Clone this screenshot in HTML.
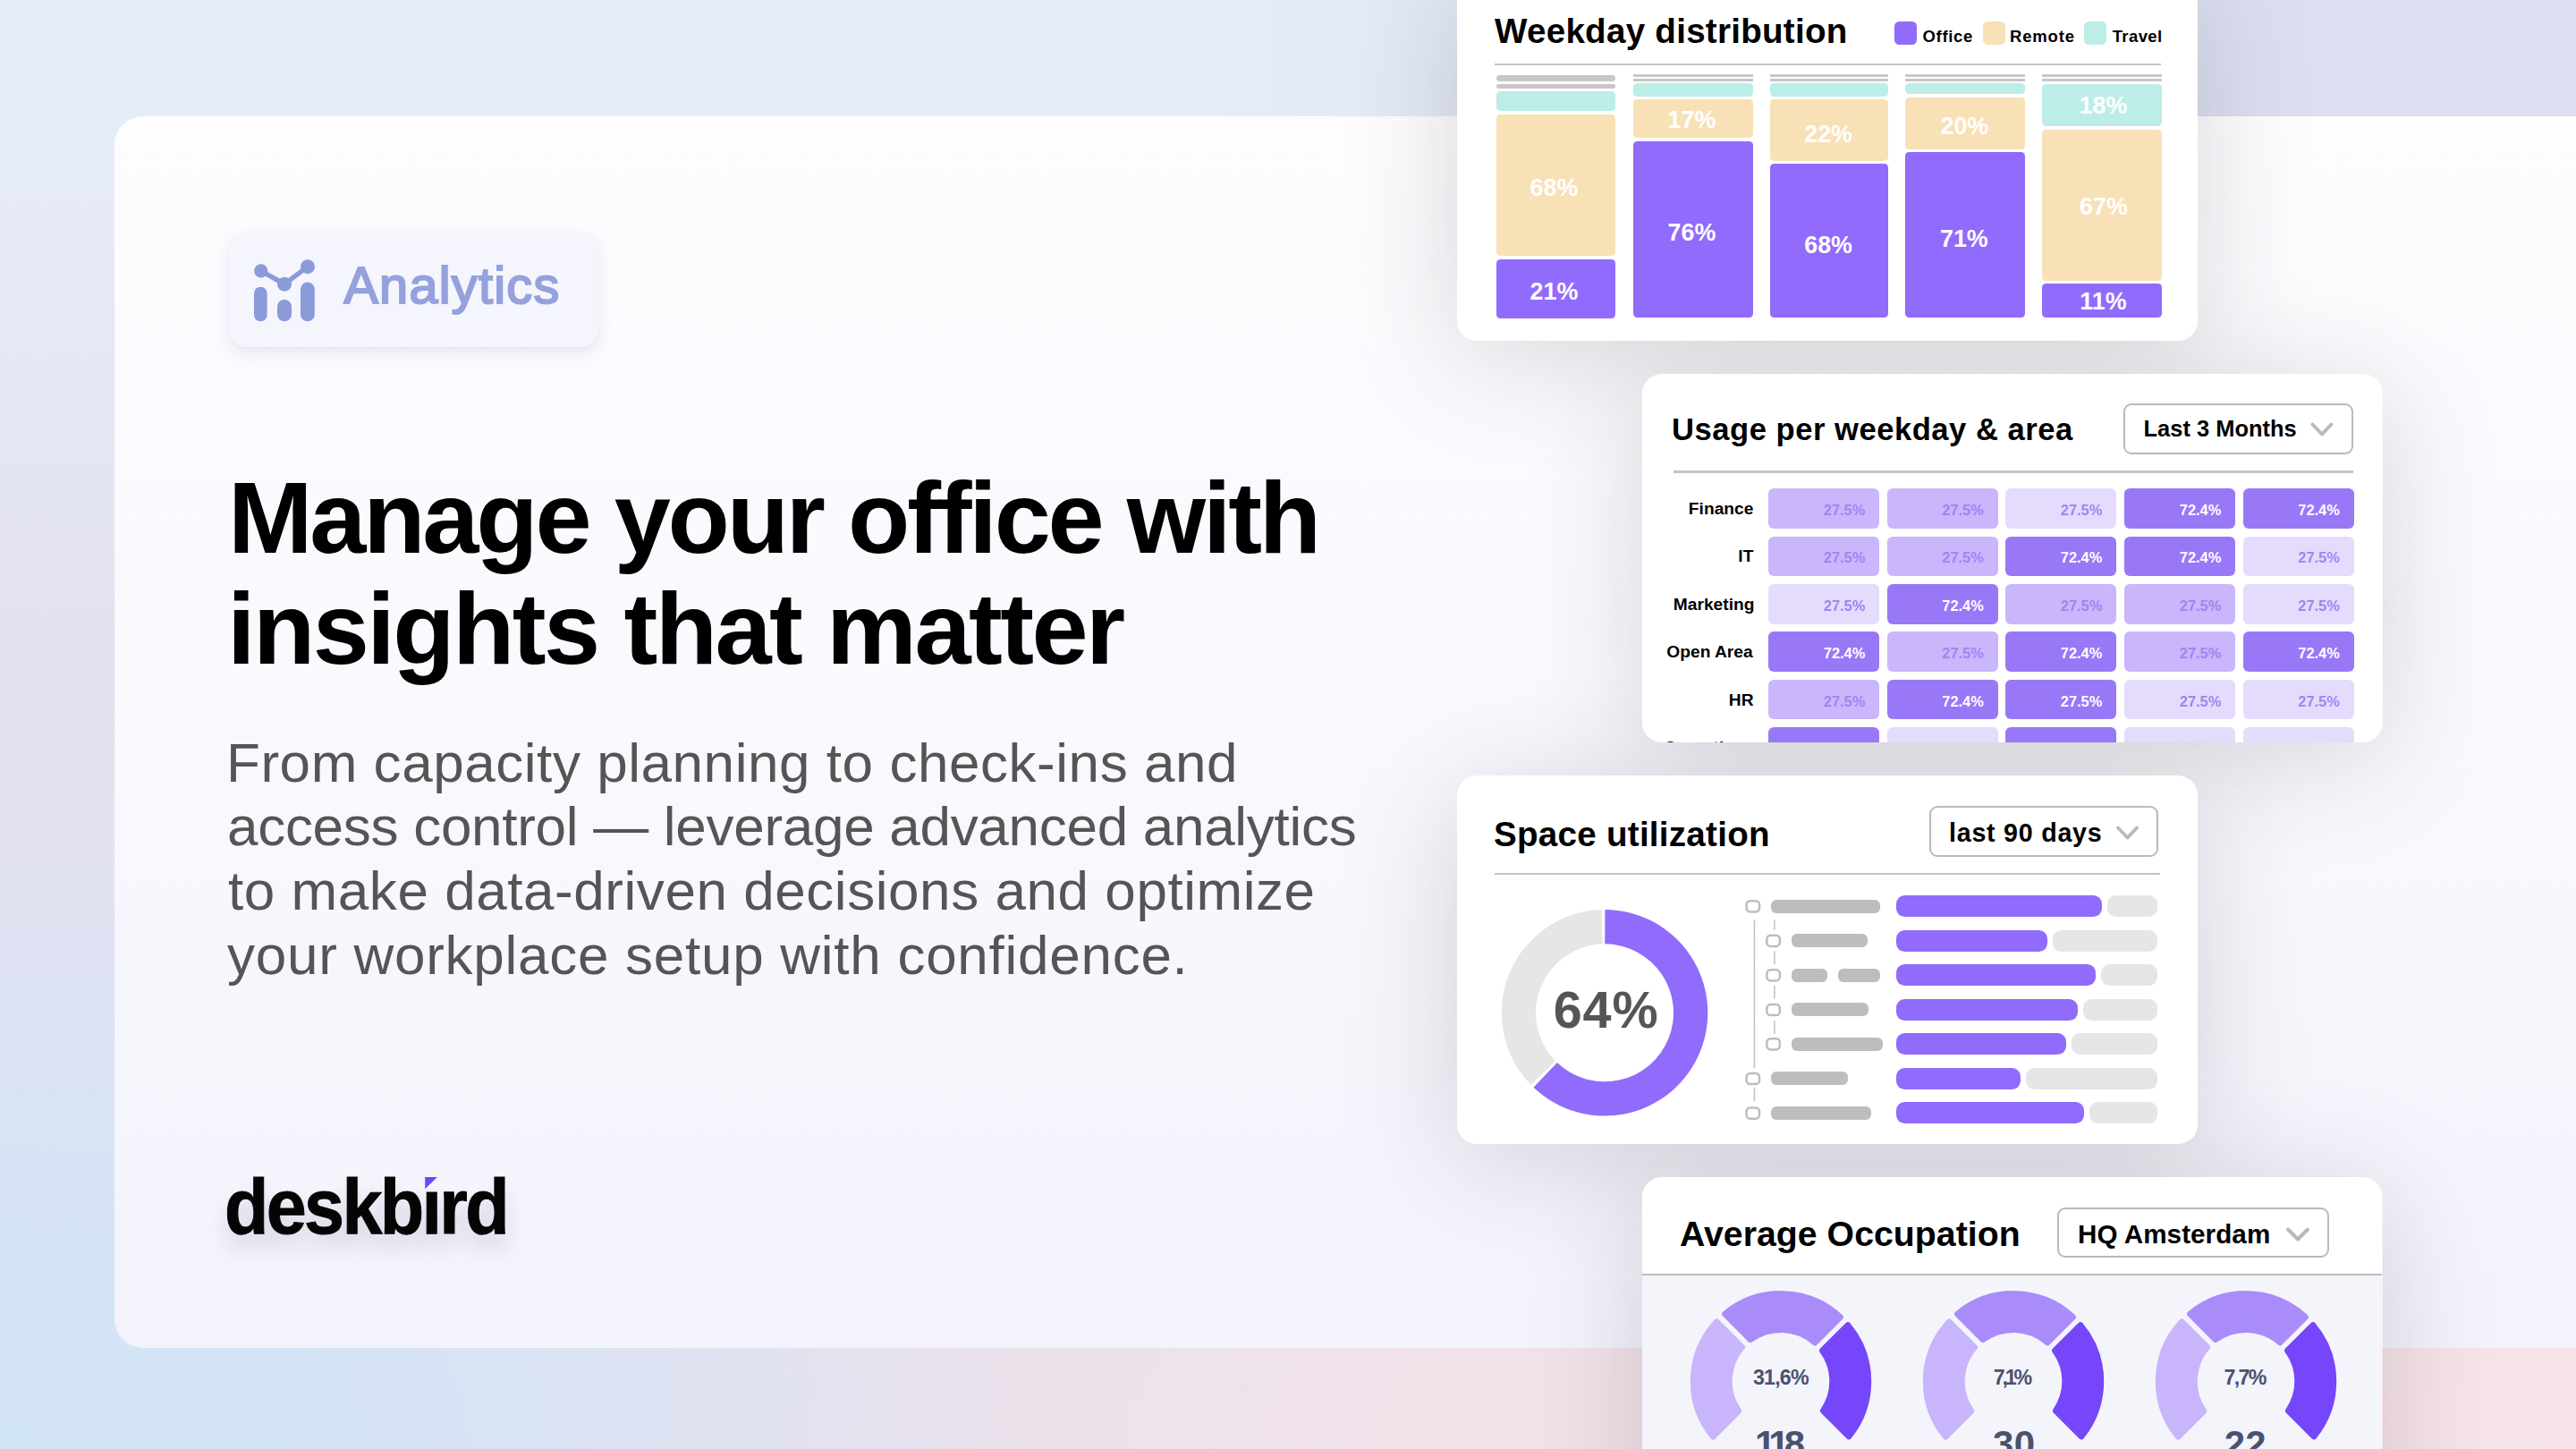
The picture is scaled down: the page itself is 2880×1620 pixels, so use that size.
<!DOCTYPE html>
<html lang="en"><head><meta charset="utf-8"><title>deskbird Analytics</title>
<style>
html,body{margin:0;padding:0}
body{width:2880px;height:1620px;overflow:hidden;position:relative;font-family:"Liberation Sans",sans-serif;font-weight:700;
background:
 radial-gradient(ellipse 1150px 720px at 0% 100%, #d1e4f6 0%, #d3e4f6 25%, rgba(209,228,246,0) 100%),
 radial-gradient(ellipse 2500px 700px at 100% 100%, #f8e4e8 0%, #f3e2e8 45%, rgba(243,226,232,0) 100%),
 linear-gradient(90deg, rgba(219,223,240,0) 45%, #dbdff0 82%),
 linear-gradient(180deg, #e6edf8 0%, #e6edf8 8%, rgba(230,237,248,0) 45%),
 #e3e1f0;}
.b{position:absolute;display:block}
.t{position:absolute;white-space:pre;line-height:1}
.panel{position:absolute;left:128px;top:130px;width:2800px;height:1377px;border-radius:32px;background:linear-gradient(180deg,#fdfdff 0%,#f9f9fe 45%,#f3f3fc 100%)}
.card{position:absolute;background:#fff;border-radius:22px;overflow:hidden}
.sh{position:absolute;border-radius:22px;box-shadow:0 16px 130px 0 rgba(42,42,48,.18)}
.dd{position:absolute;box-sizing:border-box;border:2.8px solid #bababa;border-radius:9px;background:#fff}
</style></head><body>
<div class="panel"></div>
<div class="b" style="left:255.00px;top:259.00px;width:415.00px;height:129.00px;background:#f4f5fd;border-radius:20px;box-shadow:0 8px 18px rgba(110,110,160,.13),0 1px 3px rgba(110,110,160,.05);"></div><svg class="b" style="left:276.00px;top:286.00px" width="84" height="80" viewBox="276 286 84 80"><g fill="#8b9ad9"><rect x="284" y="320.7" width="14.6" height="38.6" rx="7.3"/><rect x="310" y="335" width="16" height="24.3" rx="8"/><rect x="336" y="315.4" width="15.8" height="43.9" rx="7.9"/><circle cx="291.8" cy="302.9" r="7.6"/><circle cx="318" cy="317.7" r="8"/><circle cx="344" cy="298.2" r="8"/></g><path d="M291.8 302.9L318 317.7L344 298.2" fill="none" stroke="#8b9ad9" stroke-width="5.4" stroke-linecap="round" stroke-linejoin="round"/></svg><span class="t" style="left:384.40px;top:290.83px;font-size:57.6px;font-weight:400;color:#95a1dc;letter-spacing:1.292px;-webkit-text-stroke:2.1px #95a1dc;">Analytics</span><h1 style="margin:0"><span class="t" style="left:255.00px;top:521.90px;font-size:113.5px;letter-spacing:-3.211px;">Manage your office with</span><span class="t" style="left:254.00px;top:646.10px;font-size:113.5px;letter-spacing:-2.578px;">insights that matter</span></h1><p style="margin:0"><span class="t" style="left:253.00px;top:821.50px;font-size:62px;font-weight:400;color:#555555;letter-spacing:0.548px;">From capacity planning to check-ins and</span><span class="t" style="left:254.00px;top:893.20px;font-size:62px;font-weight:400;color:#555555;letter-spacing:-0.289px;">access control — leverage advanced analytics</span><span class="t" style="left:255.00px;top:965.00px;font-size:62px;font-weight:400;color:#555555;letter-spacing:0.553px;">to make data-driven decisions and optimize</span><span class="t" style="left:254.00px;top:1036.70px;font-size:62px;font-weight:400;color:#555555;letter-spacing:0.726px;">your workplace setup with confidence.</span></p><span class="t" style="left:251.21px;top:1305.04px;font-size:87px;color:#050505;letter-spacing:-2.866px;transform:scaleX(0.93);transform-origin:0 0;text-shadow:0 16px 24px rgba(30,30,60,.15);-webkit-text-stroke:1px #050505;">deskb<span style="display:inline-block;clip-path:inset(27% -40px -70px -40px)">i</span>rd</span><svg class="b" style="left:470.00px;top:1310.00px" width="30" height="26" viewBox="470 1310 30 26"><path d="M475.2 1315.9H488.9L475.2 1329.3Z" fill="#6c47ff"/></svg><div class="sh" style="left:1629px;top:-31px;width:828px;height:412px"></div><div class="sh" style="left:1836px;top:418px;width:828px;height:412px"></div><div class="sh" style="left:1629px;top:867px;width:828px;height:412px"></div><div class="sh" style="left:1836px;top:1316px;width:828px;height:412px"></div><div class="card" style="left:1629px;top:-31px;width:828px;height:412px"><span class="t" style="left:42.00px;top:47.07px;font-size:38.6px;letter-spacing:0.258px;">Weekday distribution</span><div class="b" style="left:42.00px;top:101.50px;width:745.00px;height:2.50px;background:#c4c4c4;"></div><div class="b" style="left:489.00px;top:55.00px;width:25.00px;height:25.50px;background:#916bfb;border-radius:5.5px;"></div><span class="t" style="left:520.50px;top:62.84px;font-size:18.5px;letter-spacing:0.672px;">Office</span><div class="b" style="left:587.70px;top:55.00px;width:25.00px;height:25.50px;background:#f8e1b7;border-radius:5.5px;"></div><span class="t" style="left:618.00px;top:62.84px;font-size:18.5px;letter-spacing:0.828px;">Remote</span><div class="b" style="left:701.00px;top:55.00px;width:25.00px;height:25.50px;background:#bcede6;border-radius:5.5px;"></div><span class="t" style="left:732.70px;top:62.84px;font-size:18.5px;letter-spacing:0.391px;">Travel</span><div class="b" style="left:43.50px;top:115.00px;width:133.50px;height:7.00px;background:#c9c6c8;border-radius:3.5px;"></div><div class="b" style="left:43.50px;top:125.00px;width:133.50px;height:5.00px;background:#c9c6c8;border-radius:2.5px;"></div><div class="b" style="left:43.50px;top:133.00px;width:133.50px;height:22.00px;background:#bcede6;border-radius:4.5px;"></div><div class="b" style="left:43.50px;top:158.50px;width:133.50px;height:158.50px;background:#f8e1b7;border-radius:4.5px;"></div><div class="b" style="left:43.50px;top:320.50px;width:133.50px;height:66.50px;background:#916bfb;border-radius:4.5px;"></div><span class="t" style="left:81.60px;top:227.53px;font-size:26.8px;color:#fff;">68%</span><span class="t" style="left:81.60px;top:343.53px;font-size:26.8px;color:#fff;">21%</span><div class="b" style="left:196.75px;top:114.00px;width:133.75px;height:2.60px;background:#c9c6c8;"></div><div class="b" style="left:196.75px;top:119.00px;width:133.75px;height:2.60px;background:#c9c6c8;"></div><div class="b" style="left:196.75px;top:124.00px;width:133.75px;height:15.00px;background:#bcede6;border-radius:4.5px;"></div><div class="b" style="left:196.75px;top:142.00px;width:133.75px;height:43.00px;background:#f8e1b7;border-radius:4.5px;"></div><div class="b" style="left:196.75px;top:188.50px;width:133.75px;height:197.50px;background:#916bfb;border-radius:4.5px;"></div><span class="t" style="left:235.62px;top:151.53px;font-size:26.8px;color:#fff;">17%</span><span class="t" style="left:235.62px;top:278.13px;font-size:26.8px;color:#fff;">76%</span><div class="b" style="left:350.00px;top:114.00px;width:131.50px;height:2.60px;background:#c9c6c8;"></div><div class="b" style="left:350.00px;top:119.00px;width:131.50px;height:2.60px;background:#c9c6c8;"></div><div class="b" style="left:350.00px;top:124.00px;width:131.50px;height:15.00px;background:#bcede6;border-radius:4.5px;"></div><div class="b" style="left:350.00px;top:142.00px;width:131.50px;height:69.00px;background:#f8e1b7;border-radius:4.5px;"></div><div class="b" style="left:350.00px;top:214.00px;width:131.50px;height:172.00px;background:#916bfb;border-radius:4.5px;"></div><span class="t" style="left:388.25px;top:167.53px;font-size:26.8px;color:#fff;">22%</span><span class="t" style="left:388.25px;top:292.03px;font-size:26.8px;color:#fff;">68%</span><div class="b" style="left:501.00px;top:114.00px;width:134.00px;height:2.60px;background:#c9c6c8;"></div><div class="b" style="left:501.00px;top:119.00px;width:134.00px;height:2.60px;background:#c9c6c8;"></div><div class="b" style="left:501.00px;top:124.00px;width:134.00px;height:12.00px;background:#bcede6;border-radius:4.5px;"></div><div class="b" style="left:501.00px;top:139.75px;width:134.00px;height:58.25px;background:#f8e1b7;border-radius:4.5px;"></div><div class="b" style="left:501.00px;top:201.00px;width:134.00px;height:185.00px;background:#916bfb;border-radius:4.5px;"></div><span class="t" style="left:540.50px;top:159.03px;font-size:26.8px;color:#fff;">20%</span><span class="t" style="left:540.00px;top:284.53px;font-size:26.8px;color:#fff;">71%</span><div class="b" style="left:654.40px;top:114.00px;width:133.60px;height:2.60px;background:#c9c6c8;"></div><div class="b" style="left:654.40px;top:119.00px;width:133.60px;height:2.60px;background:#c9c6c8;"></div><div class="b" style="left:654.40px;top:124.60px;width:133.60px;height:47.90px;background:#bcede6;border-radius:4.5px;"></div><div class="b" style="left:654.40px;top:176.00px;width:133.60px;height:168.80px;background:#f8e1b7;border-radius:4.5px;"></div><div class="b" style="left:654.40px;top:348.00px;width:133.60px;height:38.30px;background:#916bfb;border-radius:4.5px;"></div><span class="t" style="left:695.60px;top:135.53px;font-size:26.8px;color:#fff;">18%</span><span class="t" style="left:696.10px;top:249.03px;font-size:26.8px;color:#fff;">67%</span><span class="t" style="left:696.34px;top:354.53px;font-size:26.8px;color:#fff;">11%</span></div><div class="card" style="left:1836px;top:418px;width:827.3px;height:412px"><span class="t" style="left:33.00px;top:45.20px;font-size:34.6px;letter-spacing:0.518px;">Usage per weekday &amp; area</span><div class="dd" style="left:538px;top:33.30000000000001px;width:257.4px;height:56.6px"></div><span class="t" style="left:560.50px;top:49.24px;font-size:25.4px;letter-spacing:0.044px;">Last 3 Months</span><svg class="b" style="left:742.00px;top:50.00px" width="36" height="26" viewBox="2578 468 36 26"><path d="M2585.5 474.5L2596.0 485.5L2606.5 474.5" fill="none" stroke="#b9b9b9" stroke-width="3.9" stroke-linecap="round" stroke-linejoin="round"/></svg><div class="b" style="left:35.00px;top:108.30px;width:760.00px;height:2.50px;background:#c4c4c4;"></div><span class="t" style="left:51.87px;top:140.94px;font-size:19.2px;">Finance</span><div class="b" style="left:141.00px;top:128.10px;width:124.00px;height:44.60px;background:#c9b6fb;border-radius:6.2px;"></div><span class="t" style="left:202.80px;top:144.01px;font-size:16.4px;color:#9f85f2;">27.5%</span><div class="b" style="left:273.50px;top:128.10px;width:124.00px;height:44.60px;background:#c9b6fb;border-radius:6.2px;"></div><span class="t" style="left:335.30px;top:144.01px;font-size:16.4px;color:#9f85f2;">27.5%</span><div class="b" style="left:406.00px;top:128.10px;width:124.00px;height:44.60px;background:#e4dbfd;border-radius:6.2px;"></div><span class="t" style="left:467.80px;top:144.01px;font-size:16.4px;color:#9f85f2;">27.5%</span><div class="b" style="left:539.00px;top:128.10px;width:124.00px;height:44.60px;background:#9878f7;border-radius:6.2px;"></div><span class="t" style="left:600.80px;top:144.01px;font-size:16.4px;color:#fff;">72.4%</span><div class="b" style="left:671.50px;top:128.10px;width:124.00px;height:44.60px;background:#9878f7;border-radius:6.2px;"></div><span class="t" style="left:733.30px;top:144.01px;font-size:16.4px;color:#fff;">72.4%</span><span class="t" style="left:107.37px;top:194.36px;font-size:19.2px;">IT</span><div class="b" style="left:141.00px;top:181.52px;width:124.00px;height:44.60px;background:#c9b6fb;border-radius:6.2px;"></div><span class="t" style="left:202.80px;top:197.43px;font-size:16.4px;color:#9f85f2;">27.5%</span><div class="b" style="left:273.50px;top:181.52px;width:124.00px;height:44.60px;background:#c9b6fb;border-radius:6.2px;"></div><span class="t" style="left:335.30px;top:197.43px;font-size:16.4px;color:#9f85f2;">27.5%</span><div class="b" style="left:406.00px;top:181.52px;width:124.00px;height:44.60px;background:#9878f7;border-radius:6.2px;"></div><span class="t" style="left:467.80px;top:197.43px;font-size:16.4px;color:#fff;">72.4%</span><div class="b" style="left:539.00px;top:181.52px;width:124.00px;height:44.60px;background:#9878f7;border-radius:6.2px;"></div><span class="t" style="left:600.80px;top:197.43px;font-size:16.4px;color:#fff;">72.4%</span><div class="b" style="left:671.50px;top:181.52px;width:124.00px;height:44.60px;background:#e4dbfd;border-radius:6.2px;"></div><span class="t" style="left:733.30px;top:197.43px;font-size:16.4px;color:#9f85f2;">27.5%</span><span class="t" style="left:34.80px;top:247.78px;font-size:19.2px;">Marketing</span><div class="b" style="left:141.00px;top:234.94px;width:124.00px;height:44.60px;background:#e4dbfd;border-radius:6.2px;"></div><span class="t" style="left:202.80px;top:250.85px;font-size:16.4px;color:#9f85f2;">27.5%</span><div class="b" style="left:273.50px;top:234.94px;width:124.00px;height:44.60px;background:#9878f7;border-radius:6.2px;"></div><span class="t" style="left:335.30px;top:250.85px;font-size:16.4px;color:#fff;">72.4%</span><div class="b" style="left:406.00px;top:234.94px;width:124.00px;height:44.60px;background:#c9b6fb;border-radius:6.2px;"></div><span class="t" style="left:467.80px;top:250.85px;font-size:16.4px;color:#9f85f2;">27.5%</span><div class="b" style="left:539.00px;top:234.94px;width:124.00px;height:44.60px;background:#c9b6fb;border-radius:6.2px;"></div><span class="t" style="left:600.80px;top:250.85px;font-size:16.4px;color:#9f85f2;">27.5%</span><div class="b" style="left:671.50px;top:234.94px;width:124.00px;height:44.60px;background:#e4dbfd;border-radius:6.2px;"></div><span class="t" style="left:733.30px;top:250.85px;font-size:16.4px;color:#9f85f2;">27.5%</span><span class="t" style="left:27.34px;top:301.20px;font-size:19.2px;">Open Area</span><div class="b" style="left:141.00px;top:288.36px;width:124.00px;height:44.60px;background:#9878f7;border-radius:6.2px;"></div><span class="t" style="left:202.80px;top:304.27px;font-size:16.4px;color:#fff;">72.4%</span><div class="b" style="left:273.50px;top:288.36px;width:124.00px;height:44.60px;background:#c9b6fb;border-radius:6.2px;"></div><span class="t" style="left:335.30px;top:304.27px;font-size:16.4px;color:#9f85f2;">27.5%</span><div class="b" style="left:406.00px;top:288.36px;width:124.00px;height:44.60px;background:#9878f7;border-radius:6.2px;"></div><span class="t" style="left:467.80px;top:304.27px;font-size:16.4px;color:#fff;">72.4%</span><div class="b" style="left:539.00px;top:288.36px;width:124.00px;height:44.60px;background:#c9b6fb;border-radius:6.2px;"></div><span class="t" style="left:600.80px;top:304.27px;font-size:16.4px;color:#9f85f2;">27.5%</span><div class="b" style="left:671.50px;top:288.36px;width:124.00px;height:44.60px;background:#9878f7;border-radius:6.2px;"></div><span class="t" style="left:733.30px;top:304.27px;font-size:16.4px;color:#fff;">72.4%</span><span class="t" style="left:96.84px;top:354.62px;font-size:19.2px;">HR</span><div class="b" style="left:141.00px;top:341.78px;width:124.00px;height:44.60px;background:#c9b6fb;border-radius:6.2px;"></div><span class="t" style="left:202.80px;top:357.69px;font-size:16.4px;color:#9f85f2;">27.5%</span><div class="b" style="left:273.50px;top:341.78px;width:124.00px;height:44.60px;background:#9878f7;border-radius:6.2px;"></div><span class="t" style="left:335.30px;top:357.69px;font-size:16.4px;color:#fff;">72.4%</span><div class="b" style="left:406.00px;top:341.78px;width:124.00px;height:44.60px;background:#9878f7;border-radius:6.2px;"></div><span class="t" style="left:467.80px;top:357.69px;font-size:16.4px;color:#fff;">27.5%</span><div class="b" style="left:539.00px;top:341.78px;width:124.00px;height:44.60px;background:#e4dbfd;border-radius:6.2px;"></div><span class="t" style="left:600.80px;top:357.69px;font-size:16.4px;color:#9f85f2;">27.5%</span><div class="b" style="left:671.50px;top:341.78px;width:124.00px;height:44.60px;background:#e4dbfd;border-radius:6.2px;"></div><span class="t" style="left:733.30px;top:357.69px;font-size:16.4px;color:#9f85f2;">27.5%</span><span class="t" style="left:24.08px;top:408.04px;font-size:19.2px;">Operations</span><div class="b" style="left:141.00px;top:395.20px;width:124.00px;height:44.60px;background:#9878f7;border-radius:6.2px;"></div><div class="b" style="left:273.50px;top:395.20px;width:124.00px;height:44.60px;background:#e4dbfd;border-radius:6.2px;"></div><div class="b" style="left:406.00px;top:395.20px;width:124.00px;height:44.60px;background:#9878f7;border-radius:6.2px;"></div><div class="b" style="left:539.00px;top:395.20px;width:124.00px;height:44.60px;background:#e4dbfd;border-radius:6.2px;"></div><div class="b" style="left:671.50px;top:395.20px;width:124.00px;height:44.60px;background:#e4dbfd;border-radius:6.2px;"></div></div><div class="card" style="left:1629px;top:867px;width:828px;height:412px"><span class="t" style="left:41.00px;top:46.57px;font-size:38.6px;letter-spacing:0.261px;">Space utilization</span><div class="dd" style="left:528.4000000000001px;top:34.200000000000045px;width:255.8px;height:56.5px"></div><span class="t" style="left:550.00px;top:49.58px;font-size:28.6px;letter-spacing:0.779px;">last 90 days</span><svg class="b" style="left:731.00px;top:51.00px" width="38" height="28" viewBox="2360 918 38 28"><path d="M2368.0 925.5L2378.5 936.5L2389.0 925.5" fill="none" stroke="#b9b9b9" stroke-width="3.9" stroke-linecap="round" stroke-linejoin="round"/></svg><div class="b" style="left:42.00px;top:108.50px;width:743.50px;height:2.50px;background:#c4c4c4;"></div><svg class="b" style="left:41.00px;top:143.00px" width="250" height="246" viewBox="1670 1010 250 246"><path d="M1711.62 1212.97A115.3 115.3 0 0 1 1790.58 1017.05L1791.72 1055.33A77 77 0 0 0 1738.99 1186.17Z" fill="#e6e6e6"/><path d="M1794.40 1017.00A115.3 115.3 0 1 1 1714.49 1215.80L1740.90 1188.06A77 77 0 1 0 1794.27 1055.30Z" fill="#916bfb"/></svg><span class="t" style="left:107.75px;top:234.31px;font-size:57.5px;color:#555;letter-spacing:0.896px;">64%</span><svg class="b" style="left:315.00px;top:133.00px" width="60" height="256" viewBox="1944 1000 60 256"><path d="M1961.4 1028.5V1194.6M1961.4 1215.8V1231.2M1983.9 1028.5V1039.8M1983.9 1063.5V1078.2M1983.9 1102V1116.6M1983.9 1141.3V1155.9" stroke="#c4c4c4" stroke-width="1.6" fill="none"/><rect x="1952.55" y="1007.20" width="14.5" height="12.2" rx="4.2" fill="#fff" stroke="#bdbdbd" stroke-width="2.5"/><rect x="1975.35" y="1045.70" width="14.5" height="12.2" rx="4.2" fill="#fff" stroke="#bdbdbd" stroke-width="2.5"/><rect x="1975.35" y="1084.20" width="14.5" height="12.2" rx="4.2" fill="#fff" stroke="#bdbdbd" stroke-width="2.5"/><rect x="1975.35" y="1122.90" width="14.5" height="12.2" rx="4.2" fill="#fff" stroke="#bdbdbd" stroke-width="2.5"/><rect x="1975.35" y="1161.20" width="14.5" height="12.2" rx="4.2" fill="#fff" stroke="#bdbdbd" stroke-width="2.5"/><rect x="1952.55" y="1199.90" width="14.5" height="12.2" rx="4.2" fill="#fff" stroke="#bdbdbd" stroke-width="2.5"/><rect x="1952.55" y="1238.50" width="14.5" height="12.2" rx="4.2" fill="#fff" stroke="#bdbdbd" stroke-width="2.5"/></svg><div class="b" style="left:351.00px;top:138.50px;width:122.00px;height:15.00px;background:#bdbdbd;border-radius:6px;"></div><div class="b" style="left:490.50px;top:134.00px;width:230.50px;height:24.00px;background:#916bfb;border-radius:9.5px;"></div><div class="b" style="left:727.00px;top:134.00px;width:55.70px;height:24.00px;background:#e6e6e6;border-radius:9.5px;"></div><div class="b" style="left:374.00px;top:177.00px;width:84.50px;height:15.00px;background:#bdbdbd;border-radius:6px;"></div><div class="b" style="left:490.50px;top:172.50px;width:169.20px;height:24.00px;background:#916bfb;border-radius:9.5px;"></div><div class="b" style="left:665.70px;top:172.50px;width:117.00px;height:24.00px;background:#e6e6e6;border-radius:9.5px;"></div><div class="b" style="left:374.00px;top:215.50px;width:40.00px;height:15.00px;background:#bdbdbd;border-radius:6px;"></div><div class="b" style="left:425.50px;top:215.50px;width:47.50px;height:15.00px;background:#bdbdbd;border-radius:6px;"></div><div class="b" style="left:490.50px;top:211.00px;width:223.50px;height:24.00px;background:#916bfb;border-radius:9.5px;"></div><div class="b" style="left:720.00px;top:211.00px;width:62.70px;height:24.00px;background:#e6e6e6;border-radius:9.5px;"></div><div class="b" style="left:374.00px;top:254.20px;width:86.00px;height:15.00px;background:#bdbdbd;border-radius:6px;"></div><div class="b" style="left:490.50px;top:249.70px;width:203.50px;height:24.00px;background:#916bfb;border-radius:9.5px;"></div><div class="b" style="left:700.00px;top:249.70px;width:82.70px;height:24.00px;background:#e6e6e6;border-radius:9.5px;"></div><div class="b" style="left:374.00px;top:292.50px;width:102.00px;height:15.00px;background:#bdbdbd;border-radius:6px;"></div><div class="b" style="left:490.50px;top:288.00px;width:190.50px;height:24.00px;background:#916bfb;border-radius:9.5px;"></div><div class="b" style="left:687.00px;top:288.00px;width:95.70px;height:24.00px;background:#e6e6e6;border-radius:9.5px;"></div><div class="b" style="left:351.00px;top:331.20px;width:85.75px;height:15.00px;background:#bdbdbd;border-radius:6px;"></div><div class="b" style="left:490.50px;top:326.70px;width:139.10px;height:24.00px;background:#916bfb;border-radius:9.5px;"></div><div class="b" style="left:635.60px;top:326.70px;width:147.10px;height:24.00px;background:#e6e6e6;border-radius:9.5px;"></div><div class="b" style="left:351.00px;top:369.80px;width:111.60px;height:15.00px;background:#bdbdbd;border-radius:6px;"></div><div class="b" style="left:490.50px;top:365.30px;width:210.50px;height:24.00px;background:#916bfb;border-radius:9.5px;"></div><div class="b" style="left:707.00px;top:365.30px;width:75.70px;height:24.00px;background:#e6e6e6;border-radius:9.5px;"></div></div><div class="card" style="left:1836px;top:1316px;width:827.3px;height:412px"><div class="b" style="left:0.00px;top:109.00px;width:827.00px;height:400.00px;background:#f4f4fb;"></div><div class="b" style="left:0.00px;top:107.50px;width:827.00px;height:2.50px;background:#bdbdbd;"></div><span class="t" style="left:42.00px;top:43.61px;font-size:39.2px;letter-spacing:0.064px;">Average Occupation</span><div class="dd" style="left:464.1999999999998px;top:33.59999999999991px;width:303.8px;height:56.6px"></div><span class="t" style="left:487.00px;top:48.54px;font-size:29.6px;letter-spacing:0.080px;">HQ Amsterdam</span><svg class="b" style="left:714.00px;top:50.00px" width="38" height="28" viewBox="2550 1366 38 28"><path d="M2558.0 1374.5L2569.0 1385.5L2580.0 1374.5" fill="none" stroke="#b9b9b9" stroke-width="3.9" stroke-linecap="round" stroke-linejoin="round"/></svg><svg class="b" style="left:34.00px;top:114.00px" width="780" height="200" viewBox="1870 1430 780 200"><path d="M1915.27 1606.03A97.7 97.7 0 0 1 1919.21 1478.03L1947.46 1506.28A57.8 57.8 0 0 0 1943.73 1577.57Z" fill="#c8b5fb" stroke="#c8b5fb" stroke-width="7" stroke-linejoin="round"/><path d="M1928.65 1469.08A97.7 97.7 0 0 1 2057.35 1472.58L2029.10 1500.83A57.8 57.8 0 0 0 1957.07 1497.50Z" fill="#a98cfa" stroke="#a98cfa" stroke-width="7" stroke-linejoin="round"/><path d="M2065.96 1481.64A97.7 97.7 0 0 1 2066.98 1605.72L2038.50 1577.23A57.8 57.8 0 0 0 2037.56 1510.05Z" fill="#7646fa" stroke="#7646fa" stroke-width="7" stroke-linejoin="round"/><path d="M2175.27 1606.03A97.7 97.7 0 0 1 2179.21 1478.03L2207.46 1506.28A57.8 57.8 0 0 0 2203.73 1577.57Z" fill="#c8b5fb" stroke="#c8b5fb" stroke-width="7" stroke-linejoin="round"/><path d="M2188.65 1469.08A97.7 97.7 0 0 1 2317.35 1472.58L2289.10 1500.83A57.8 57.8 0 0 0 2217.07 1497.50Z" fill="#a98cfa" stroke="#a98cfa" stroke-width="7" stroke-linejoin="round"/><path d="M2325.96 1481.64A97.7 97.7 0 0 1 2326.98 1605.72L2298.50 1577.23A57.8 57.8 0 0 0 2297.56 1510.05Z" fill="#7646fa" stroke="#7646fa" stroke-width="7" stroke-linejoin="round"/><path d="M2435.27 1606.03A97.7 97.7 0 0 1 2439.21 1478.03L2467.46 1506.28A57.8 57.8 0 0 0 2463.73 1577.57Z" fill="#c8b5fb" stroke="#c8b5fb" stroke-width="7" stroke-linejoin="round"/><path d="M2448.65 1469.08A97.7 97.7 0 0 1 2577.35 1472.58L2549.10 1500.83A57.8 57.8 0 0 0 2477.07 1497.50Z" fill="#a98cfa" stroke="#a98cfa" stroke-width="7" stroke-linejoin="round"/><path d="M2585.96 1481.64A97.7 97.7 0 0 1 2586.98 1605.72L2558.50 1577.23A57.8 57.8 0 0 0 2557.56 1510.05Z" fill="#7646fa" stroke="#7646fa" stroke-width="7" stroke-linejoin="round"/></svg><span class="t" style="left:124.00px;top:212.56px;font-size:23.2px;color:#4a5270;letter-spacing:-0.807px;">31,6%</span><span class="t" style="left:392.80px;top:212.56px;font-size:23.2px;color:#4a5270;letter-spacing:-3.178px;">7,1%</span><span class="t" style="left:650.60px;top:212.56px;font-size:23.2px;color:#4a5270;letter-spacing:-1.711px;">7,7%</span><span class="t" style="left:126.00px;top:277.94px;font-size:42px;color:#4a5270;letter-spacing:-5.850px;">118</span><span class="t" style="left:392.00px;top:277.94px;font-size:42px;color:#4a5270;letter-spacing:0.442px;">30</span><span class="t" style="left:650.80px;top:277.94px;font-size:42px;color:#4a5270;letter-spacing:0.042px;">22</span></div></body></html>
